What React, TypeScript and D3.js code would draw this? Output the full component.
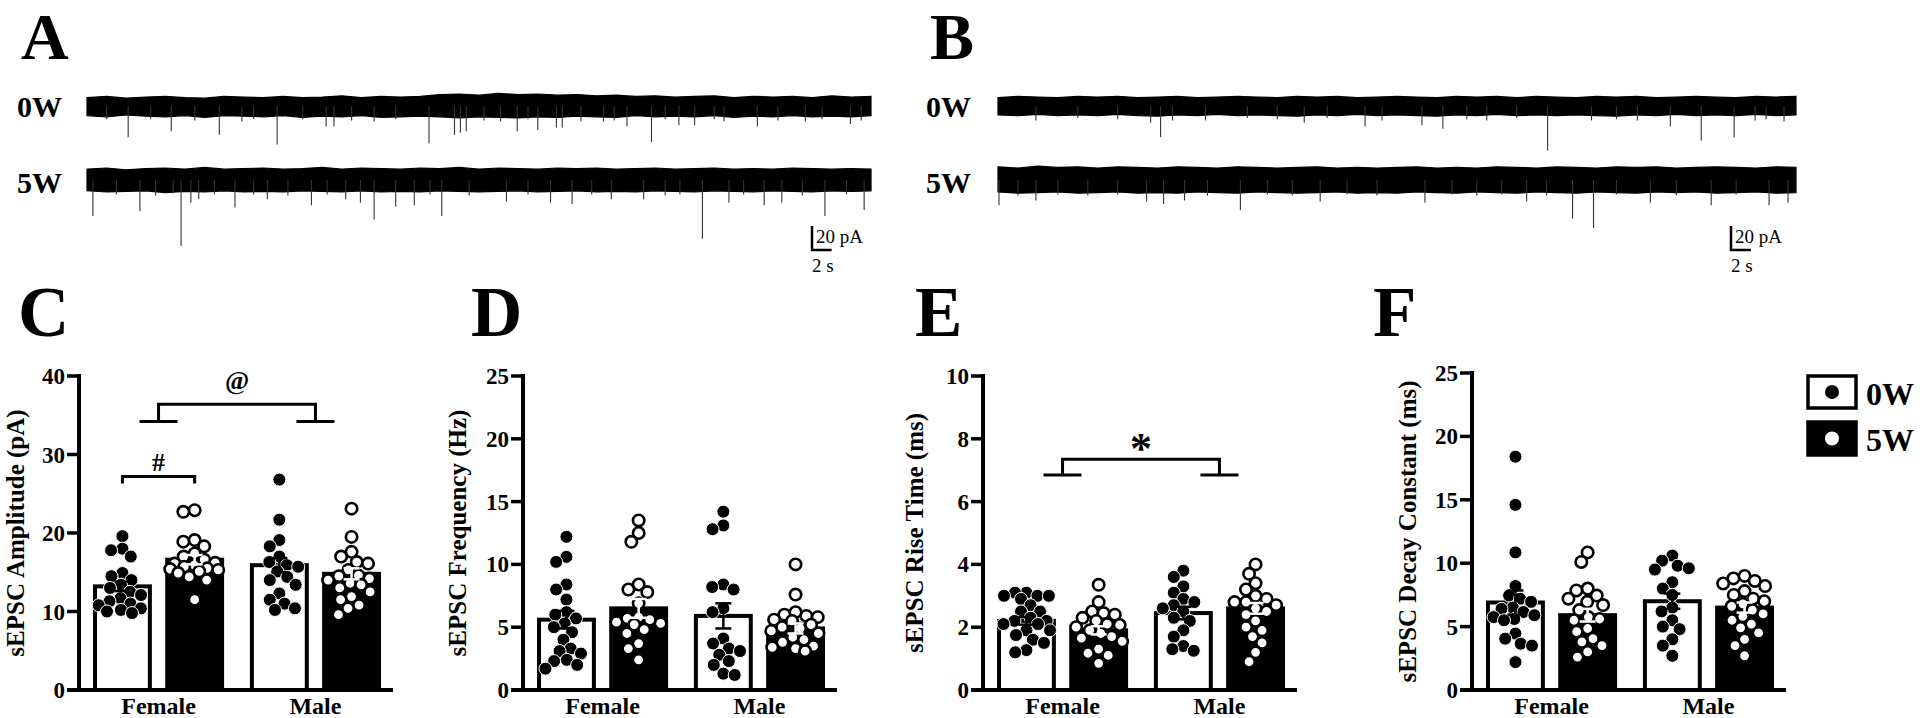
import React from "react";
import * as d3 from "d3";

// ---------- data ----------
const sexes = ["Female", "Male"];
const weeks = ["0W", "5W"];

// C: amplitude (pA)   order: Female 0W, Female 5W, Male 0W, Male 5W
const ampTicks = [0, 10, 20, 30, 40];
const ampMean = [13.2, 16.6, 15.9, 14.8];
const ampSem = [0.6, 0.6, 0.9, 0.7];
const ampF0 = [19.6, 18.0, 17.8, 17.0, 14.9, 14.5, 14.0, 13.4, 13.0, 12.5, 12.1, 11.7, 11.3, 11.0, 10.8, 10.4, 10.2, 10.0, 9.8];
const ampF5 = [22.9, 22.7, 19.1, 18.9, 18.3, 17.4, 17.0, 16.6, 16.2, 16.1, 15.9, 15.7, 15.5, 15.4, 15.3, 15.1, 14.9, 14.4, 14.0, 11.5];
const ampM0 = [26.8, 21.7, 19.1, 18.3, 17.0, 16.3, 15.9, 15.7, 15.1, 14.4, 14.0, 13.4, 12.3, 11.5, 11.0, 10.4, 10.2];
const ampM5 = [23.1, 19.5, 17.6, 17.0, 16.3, 16.1, 15.3, 14.6, 14.5, 14.2, 14.0, 13.6, 13.4, 13.0, 12.5, 11.9, 11.5, 10.8, 10.4, 9.6];

// D: frequency (Hz)
const freqTicks = [0, 5, 10, 15, 20, 25];
const freqMean = [5.6, 6.5, 5.9, 4.9];
const freqSem = [0.7, 0.75, 1.0, 0.4];
const freqF0 = [12.2, 10.6, 10.2, 8.4, 8.0, 7.2, 6.2, 6.0, 5.7, 5.3, 5.0, 4.6, 4.0, 3.3, 3.1, 2.9, 2.4, 2.3, 2.0, 1.7];
const freqF5 = [13.5, 12.5, 11.8, 8.4, 8.0, 7.8, 6.9, 5.8, 5.7, 5.6, 5.4, 5.3, 5.2, 4.8, 4.5, 3.7, 3.3, 2.4];
const freqM0 = [14.2, 13.1, 12.8, 8.4, 8.2, 8.0, 6.5, 6.2, 4.1, 3.7, 3.3, 3.1, 2.8, 2.3, 2.0, 1.3, 1.2];
const freqM5 = [10.0, 7.6, 6.2, 6.0, 5.9, 5.8, 5.6, 5.5, 5.2, 5.0, 4.9, 4.7, 4.5, 4.2, 4.0, 3.8, 3.5, 3.4, 3.3, 3.1];

// E: rise time (ms)
const riseTicks = [0, 2, 4, 6, 8, 10];
const riseMean = [2.2, 1.9, 2.45, 2.6];
const riseSem = [0.12, 0.13, 0.2, 0.17];
const riseF0 = [3.1, 3.1, 3.0, 3.0, 3.0, 2.9, 2.7, 2.5, 2.5, 2.3, 2.2, 2.2, 2.1, 2.1, 1.9, 1.9, 1.75, 1.6, 1.5, 1.27, 1.2];
const riseF5 = [3.35, 2.8, 2.5, 2.45, 2.4, 2.3, 2.2, 2.1, 2.07, 2.0, 1.9, 1.8, 1.7, 1.65, 1.55, 1.3, 1.17, 1.1, 0.85];
const riseM0 = [3.8, 3.6, 3.3, 3.1, 2.9, 2.8, 2.7, 2.6, 2.5, 2.3, 2.2, 1.9, 1.7, 1.4, 1.3, 1.25];
const riseM5 = [4.0, 3.7, 3.4, 3.2, 3.0, 2.9, 2.8, 2.8, 2.7, 2.6, 2.5, 2.4, 2.2, 2.0, 1.9, 1.7, 1.5, 1.2, 0.9];

// F: decay constant (ms)
const decayTicks = [0, 5, 10, 15, 20, 25];
const decayMean = [6.9, 5.9, 7.0, 6.5];
const decaySem = [0.95, 0.5, 0.6, 0.4];
const decayF0 = [18.4, 14.6, 10.85, 8.2, 7.45, 7.2, 6.95, 6.5, 6.4, 6.15, 5.9, 5.75, 5.6, 5.5, 4.45, 4.05, 3.65, 3.5, 2.2];
const decayF5 = [10.85, 10.1, 8.0, 7.85, 7.45, 7.2, 6.95, 6.7, 6.3, 5.75, 5.6, 5.5, 4.85, 4.6, 4.05, 3.8, 3.5, 3.0, 2.6];
const decayM0 = [10.6, 10.2, 9.8, 9.6, 9.5, 8.5, 8.0, 7.5, 6.5, 6.2, 5.5, 5.0, 4.8, 4.0, 3.5, 2.7];
const decayM5 = [9.0, 8.8, 8.6, 8.4, 8.2, 7.8, 7.5, 7.2, 7.0, 6.8, 6.6, 6.3, 6.0, 5.8, 5.5, 5.2, 4.9, 4.5, 4.0, 3.5, 2.7];

// traces: noise envelope sampled every 2 s over 80 s (upper / lower, pA) and events [time s, amplitude pA]
const hiA0 = [7, 8, 6.5, 7.5, 8, 7, 6.5, 8, 7.5, 7, 8, 7, 7.5, 8.5, 7, 8, 7.5, 8, 9.5, 10, 9, 10.5, 9.5, 10, 9, 9.5, 8.5, 9, 8, 8.5, 7.5, 8, 8.5, 7, 8, 7.5, 8, 7, 8.5, 7.5, 8];
const loA0 = [-8, -9, -7.5, -8.5, -9, -8, -9.5, -8, -8.5, -9, -8, -9.5, -8.5, -9, -8, -9.5, -9, -8.5, -9, -10, -9, -9.5, -10, -9, -9.5, -8.5, -9, -9.5, -8, -9, -8.5, -9, -8, -9.5, -8.5, -9, -8, -9, -8.5, -9, -8];
const hiA5 = [9, 10, 8.5, 9.5, 10, 9, 10.5, 9, 9.5, 10, 9, 9.5, 10.5, 9, 10, 9.5, 9, 10, 9.5, 10.5, 9, 10, 9.5, 9, 10, 9.5, 10, 9, 9.5, 10, 9, 9.5, 10, 9, 9.5, 9, 10, 9.5, 9, 9.5, 9];
const loA5 = [-9, -10, -9.5, -9, -10.5, -9.5, -10, -9, -10, -9.5, -10, -9, -9.5, -10, -9, -10, -9.5, -10, -9, -9.5, -10, -9.5, -9, -10, -9.5, -9, -10, -9.5, -10, -9, -9.5, -10, -9, -9.5, -10, -9, -9.5, -10, -9, -9.5, -9];
const hiB0 = [7, 8, 7.5, 7, 8, 7.5, 8, 7, 7.5, 8, 7, 7.5, 8, 7.5, 7, 8, 7.5, 8, 7, 7.5, 8, 7.5, 7, 8, 7.5, 8, 7, 8, 7.5, 7, 8, 7.5, 8, 7, 7.5, 8, 7.5, 7, 8, 7.5, 8];
const loB0 = [-7.5, -8, -7, -8, -7.5, -8, -7, -8, -8.5, -7.5, -8, -7, -8, -7.5, -8, -8.5, -7.5, -8, -7, -8, -7.5, -8, -8.5, -7.5, -8, -7, -8, -7.5, -8, -7.5, -8, -8.5, -7.5, -8, -7, -8, -7.5, -8, -7, -8, -7.5];
const hiB5 = [11, 10, 11.5, 10.5, 11, 10, 11, 10.5, 10, 11, 10.5, 10, 11, 10.5, 10, 10.5, 11, 10, 10.5, 10, 10.5, 11, 10, 10.5, 10, 11, 10.5, 10, 11, 10.5, 10, 11, 10.5, 11, 10, 10.5, 11, 10.5, 10, 11, 10.5];
const loB5 = [-10, -11, -10.5, -10, -11, -10.5, -10, -11, -10.5, -11, -10, -10.5, -11, -10, -10.5, -11, -10.5, -10, -11, -10.5, -11, -10, -10.5, -11, -10, -10.5, -11, -10, -10.5, -11, -10, -10.5, -11, -10, -10.5, -10, -11, -10.5, -10, -11, -10.5];

const evA0 = [[2, 11], [4.2, 26], [6.5, 11], [8.6, 21], [11, 12], [13.5, 24], [15.8, 13], [17, 11], [19.4, 32], [22, 11], [24.4, 17], [25.2, 17], [27, 12], [29.3, 13], [31.5, 11], [34.9, 31], [37.5, 24], [38.1, 22], [38.7, 21], [40.5, 12], [42.2, 13], [43.9, 21], [45, 11], [46, 20], [47.9, 18], [48.5, 18], [50.4, 13], [52.7, 13], [53.8, 12], [55.1, 17], [57.6, 30], [59, 11], [60.4, 16], [62, 16], [64, 11], [65, 13], [68.4, 17], [70.5, 12], [73.3, 13], [75, 11], [77.9, 15], [79, 12]];
const evA5 = [[0.6, 30], [3, 12], [5.4, 26], [7, 13], [8.8, 11], [9.6, 55], [10.6, 19], [11.4, 16], [13, 12], [15.1, 23], [17, 12], [18.4, 16], [20.5, 13], [22.9, 21], [24.5, 12], [26.4, 16], [27.9, 19], [29.3, 33], [31.5, 22], [33.4, 21], [35, 12], [36.2, 30], [39, 13], [42.8, 18], [45, 12], [47.3, 19], [49.5, 20], [51.5, 12], [53.5, 16], [56.8, 16], [59, 13], [60.5, 12], [62.8, 49], [65.5, 19], [67, 12], [69.1, 21], [70.9, 19], [73, 13], [75.3, 30], [77.5, 12], [79.3, 25]];
const evB0 = [[3.8, 12], [8, 10], [12, 11], [15.3, 14], [16.3, 26], [17.5, 12], [20.8, 12], [25, 10], [28, 11], [30.7, 14], [33, 10], [36.8, 17], [38.5, 12], [42.5, 16], [44.6, 19], [47, 11], [49, 12], [52, 10], [55.1, 37], [59.5, 12], [62, 11], [64.1, 12], [67.4, 17], [70.5, 29], [73.8, 26], [75.9, 12], [77, 11], [78.8, 13]];
const evB5 = [[0.1, 21], [2, 13], [3.8, 17], [6, 12], [9, 13], [12, 12], [14.9, 18], [16.6, 20], [18.7, 17], [21, 13], [24.3, 25], [27, 12], [29.5, 13], [32.3, 18], [35, 12], [38, 13], [42.8, 19], [45.5, 12], [48, 13], [50.5, 12], [53, 18], [55, 13], [57.6, 32], [59.7, 40], [62, 12], [65.4, 19], [68, 13], [71.5, 21], [74, 12], [77.3, 21], [79.2, 19]];

// ---------- layout ----------
const FONT = "'Liberation Serif', 'Times New Roman', serif";
const Y0 = 690;
const PT_R = 6.5;
const LETTER = 71;

const panels = [
  { letter: "C", letterX: 18, axisX: 79, top: 376, ticks: ampTicks, title: "sEPSC Amplitude (pA)", titleX: 24, mean: ampMean, sem: ampSem, pts: [ampF0, ampF5, ampM0, ampM5] },
  { letter: "D", letterX: 471, axisX: 523, top: 376, ticks: freqTicks, title: "sEPSC Frequency (Hz)", titleX: 466, mean: freqMean, sem: freqSem, pts: [freqF0, freqF5, freqM0, freqM5] },
  { letter: "E", letterX: 915, axisX: 983, top: 376, ticks: riseTicks, title: "sEPSC Rise Time (ms)", titleX: 923, mean: riseMean, sem: riseSem, pts: [riseF0, riseF5, riseM0, riseM5] },
  { letter: "F", letterX: 1373, axisX: 1472, top: 373, ticks: decayTicks, title: "sEPSC Decay Constant (ms)", titleX: 1416, mean: decayMean, sem: decaySem, pts: [decayF0, decayF5, decayM0, decayM5] },
];

// simple deterministic beeswarm, offsets around the bar centre
function swarm(vals: number[], y: (v: number) => number, r: number, half: number) {
  const d = 2 * r * 0.88;
  const sorted = vals.map((v) => ({ v, y: y(v) })).sort((a, b) => a.y - b.y);
  const placed: { x: number; y: number }[] = [];
  for (const p of sorted) {
    const near = placed.filter((q) => Math.abs(q.y - p.y) < d);
    const cands = [0];
    near.forEach((q) => {
      const dx = Math.sqrt(d * d - (q.y - p.y) ** 2);
      cands.push(q.x + dx, q.x - dx);
    });
    cands.sort((a, b) => Math.abs(a) - Math.abs(b) || a - b);
    const ok = cands.filter((c) => Math.abs(c) <= half);
    let x = ok.find((c) => near.every((q) => (q.x - c) ** 2 + (q.y - p.y) ** 2 >= d * d - 0.5));
    if (x === undefined) {
      let best = 0, bestD = -1;
      d3.range(-half, half + 0.1, 1).forEach((c) => {
        const m = d3.min(near, (q) => (q.x - c) ** 2 + (q.y - p.y) ** 2) ?? 1e9;
        if (m > bestD) { bestD = m; best = c; }
      });
      x = best;
    }
    placed.push({ x, y: p.y });
  }
  return placed;
}

function BarPanel({ p }: { p: (typeof panels)[number] }) {
  const max = p.ticks[p.ticks.length - 1];
  const y = d3.scaleLinear().domain([0, max]).range([Y0, p.top]);
  const outer = d3.scaleBand().domain(sexes).range([p.axisX + 16, p.axisX + 300]).paddingInner(0.19);
  const inner = d3.scaleBand().domain(weeks).range([0, outer.bandwidth()]).paddingInner(0.24);
  const bw = inner.bandwidth();
  const groups = sexes.flatMap((s) => weeks.map((w) => ({ s, w })));

  return (
    <g fontFamily={FONT} fontWeight="bold">
      <text x={p.letterX} y={336} fontSize={LETTER}>{p.letter}</text>
      <text
        transform={`translate(${p.titleX},${(Y0 + p.top) / 2}) rotate(-90)`}
        textAnchor="middle"
        fontSize={25}
      >
        {p.title}
      </text>
      {groups.map((g, i) => {
        const x = outer(g.s)! + inner(g.w)!;
        const filled = g.w === "5W";
        const m = p.mean[i];
        const cx = x + bw / 2;
        const pts = swarm(p.pts[i], y, PT_R, bw / 2 - 3);
        const ec = filled ? "#fff" : "#000";
        return (
          <g key={i}>
            <rect x={x} y={y(m)} width={bw} height={Y0 - y(m)} fill={filled ? "#000" : "#fff"} stroke="#000" strokeWidth={4} />
            {pts.map((q, j) =>
              filled ? (
                <circle key={j} cx={cx + q.x} cy={q.y} r={PT_R - 0.8} fill="#fff" stroke="#000" strokeWidth={2.6} />
              ) : (
                <circle key={j} cx={cx + q.x} cy={q.y} r={PT_R} fill="#000" stroke="#fff" strokeWidth={1} />
              )
            )}
            <g stroke={ec} strokeWidth={2.5}>
              <line x1={cx} x2={cx} y1={y(m - p.sem[i])} y2={y(m + p.sem[i])} />
              <line x1={cx - 8} x2={cx + 8} y1={y(m + p.sem[i])} y2={y(m + p.sem[i])} />
              <line x1={cx - 8} x2={cx + 8} y1={y(m - p.sem[i])} y2={y(m - p.sem[i])} />
            </g>
          </g>
        );
      })}
      {/* axes */}
      <line x1={p.axisX} x2={p.axisX} y1={y(max) - 2} y2={Y0} stroke="#000" strokeWidth={4} />
      <line x1={p.axisX - 12} x2={p.axisX + 314} y1={Y0} y2={Y0} stroke="#000" strokeWidth={4} />
      {p.ticks.map((t) => (
        <g key={t}>
          <line x1={p.axisX - 12} x2={p.axisX} y1={y(t)} y2={y(t)} stroke="#000" strokeWidth={3.5} />
          <text x={p.axisX - 14} y={y(t)} dy="0.35em" textAnchor="end" fontSize={23}>{t}</text>
        </g>
      ))}
      {sexes.map((s) => (
        <text key={s} x={outer(s)! + outer.bandwidth() / 2} y={714} textAnchor="middle" fontSize={24}>{s}</text>
      ))}
    </g>
  );
}

// significance brackets
function Brackets() {
  const pc = panels[0];
  const yc = d3.scaleLinear().domain([0, 40]).range([Y0, pc.top]);
  const oc = d3.scaleBand().domain(sexes).range([pc.axisX + 16, pc.axisX + 300]).paddingInner(0.19);
  const ic = d3.scaleBand().domain(weeks).range([0, oc.bandwidth()]).paddingInner(0.24);
  const c = (s: string, w: string) => oc(s)! + ic(w)! + ic.bandwidth() / 2;
  const mid = (s: string) => oc(s)! + oc.bandwidth() / 2;

  const pe = panels[2];
  const ye = d3.scaleLinear().domain([0, 10]).range([Y0, pe.top]);
  const oe = d3.scaleBand().domain(sexes).range([pe.axisX + 16, pe.axisX + 300]).paddingInner(0.19);
  const midE = (s: string) => oe(s)! + oe.bandwidth() / 2;

  const sexBracket = (xa: number, xb: number, yTop: number, yLeg: number) => (
    <path
      d={`M${xa - 19},${yLeg}H${xa + 19}M${xa},${yLeg}V${yTop}H${xb}V${yLeg}M${xb - 19},${yLeg}H${xb + 19}`}
      fill="none"
      stroke="#000"
      strokeWidth={3}
    />
  );

  return (
    <g fontFamily={FONT} fontWeight="bold" textAnchor="middle">
      {/* # Female 0W vs 5W */}
      <path
        d={`M${c("Female", "0W")},${yc(26.3)}V${yc(27.2)}H${c("Female", "5W")}V${yc(26.3)}`}
        fill="none"
        stroke="#000"
        strokeWidth={3}
      />
      <text x={(c("Female", "0W") + c("Female", "5W")) / 2} y={yc(29.1)} dy="0.35em" fontSize={26}>#</text>
      {sexBracket(mid("Female"), mid("Male"), yc(36.4), yc(34.2))}
      <text x={(mid("Female") + mid("Male")) / 2} y={yc(39.5)} dy="0.35em" fontSize={26}>@</text>
      {sexBracket(midE("Female"), midE("Male"), ye(7.35), ye(6.85))}
      <text x={(midE("Female") + midE("Male")) / 2} y={ye(8.0)} dy="0.55em" fontSize={44}>*</text>
    </g>
  );
}

function Trace({ hi, lo, ev, x0, x1, base }: { hi: number[]; lo: number[]; ev: number[][]; x0: number; x1: number; base: number }) {
  const tx = d3.scaleLinear().domain([0, 80]).range([x0, x1]);
  const ty = d3.scaleLinear().domain([-20, 20]).range([base + 24, base - 24]);
  const t = hi.map((_, i) => i * 2);
  const area = d3.area<number>().x((i) => tx(t[i])).y0((i) => ty(lo[i])).y1((i) => ty(hi[i]));
  return (
    <g>
      <path d={area(d3.range(hi.length)) ?? ""} fill="#000" stroke="#000" strokeWidth={1.2} />
      {ev.map((e, i) => (
        <line key={i} x1={tx(e[0])} x2={tx(e[0])} y1={base} y2={ty(-e[1])} stroke="#333" strokeWidth={1.1} />
      ))}
    </g>
  );
}

function TracePanel({ letter, lx, x0, x1, a, b, sx }: any) {
  const tx = d3.scaleLinear().domain([0, 80]).range([x0, x1]);
  const ty = d3.scaleLinear().domain([-20, 20]).range([24, -24]);
  const sLen = tx(2) - tx(0);
  const sH = ty(0) - ty(20);
  return (
    <g fontFamily={FONT} fontWeight="bold">
      <text x={lx} y={59} fontSize={66}>{letter}</text>
      <text x={lx - 4} y={117} fontSize={30}>0W</text>
      <text x={lx - 4} y={193} fontSize={30}>5W</text>
      <Trace hi={a[0]} lo={a[1]} ev={a[2]} x0={x0} x1={x1} base={106} />
      <Trace hi={b[0]} lo={b[1]} ev={b[2]} x0={x0} x1={x1} base={180} />
      <path d={`M${sx},${250 - sH}V${250}H${sx + sLen}`} fill="none" stroke="#000" strokeWidth={2.5} />
      <text x={sx + 4} y={243} fontSize={19} fontWeight="normal">20 pA</text>
      <text x={sx} y={272} fontSize={19} fontWeight="normal">2 s</text>
    </g>
  );
}

function Legend() {
  return (
    <g fontFamily={FONT} fontWeight="bold">
      <rect x={1808} y={376} width={48} height={32} fill="#fff" stroke="#000" strokeWidth={3.5} />
      <circle cx={1832} cy={392} r={7} fill="#000" />
      <text x={1866} y={405} fontSize={32}>0W</text>
      <rect x={1808} y={422} width={48} height={33} fill="#000" stroke="#000" strokeWidth={3.5} />
      <circle cx={1832} cy={438.5} r={7} fill="#fff" />
      <text x={1866} y={451} fontSize={32}>5W</text>
    </g>
  );
}

export default function App() {
  return (
    <svg width={1920} height={718} style={{ position: "absolute", left: 0, top: 0, background: "#fff" }}>
      <rect width={1920} height={718} fill="#fff" />
      <TracePanel letter="A" lx={21} x0={87} x1={871} a={[hiA0, loA0, evA0]} b={[hiA5, loA5, evA5]} sx={812} />
      <TracePanel letter="B" lx={930} x0={998} x1={1796} a={[hiB0, loB0, evB0]} b={[hiB5, loB5, evB5]} sx={1731} />
      {panels.map((p) => (
        <BarPanel key={p.letter} p={p} />
      ))}
      <Brackets />
      <Legend />
    </svg>
  );
}
